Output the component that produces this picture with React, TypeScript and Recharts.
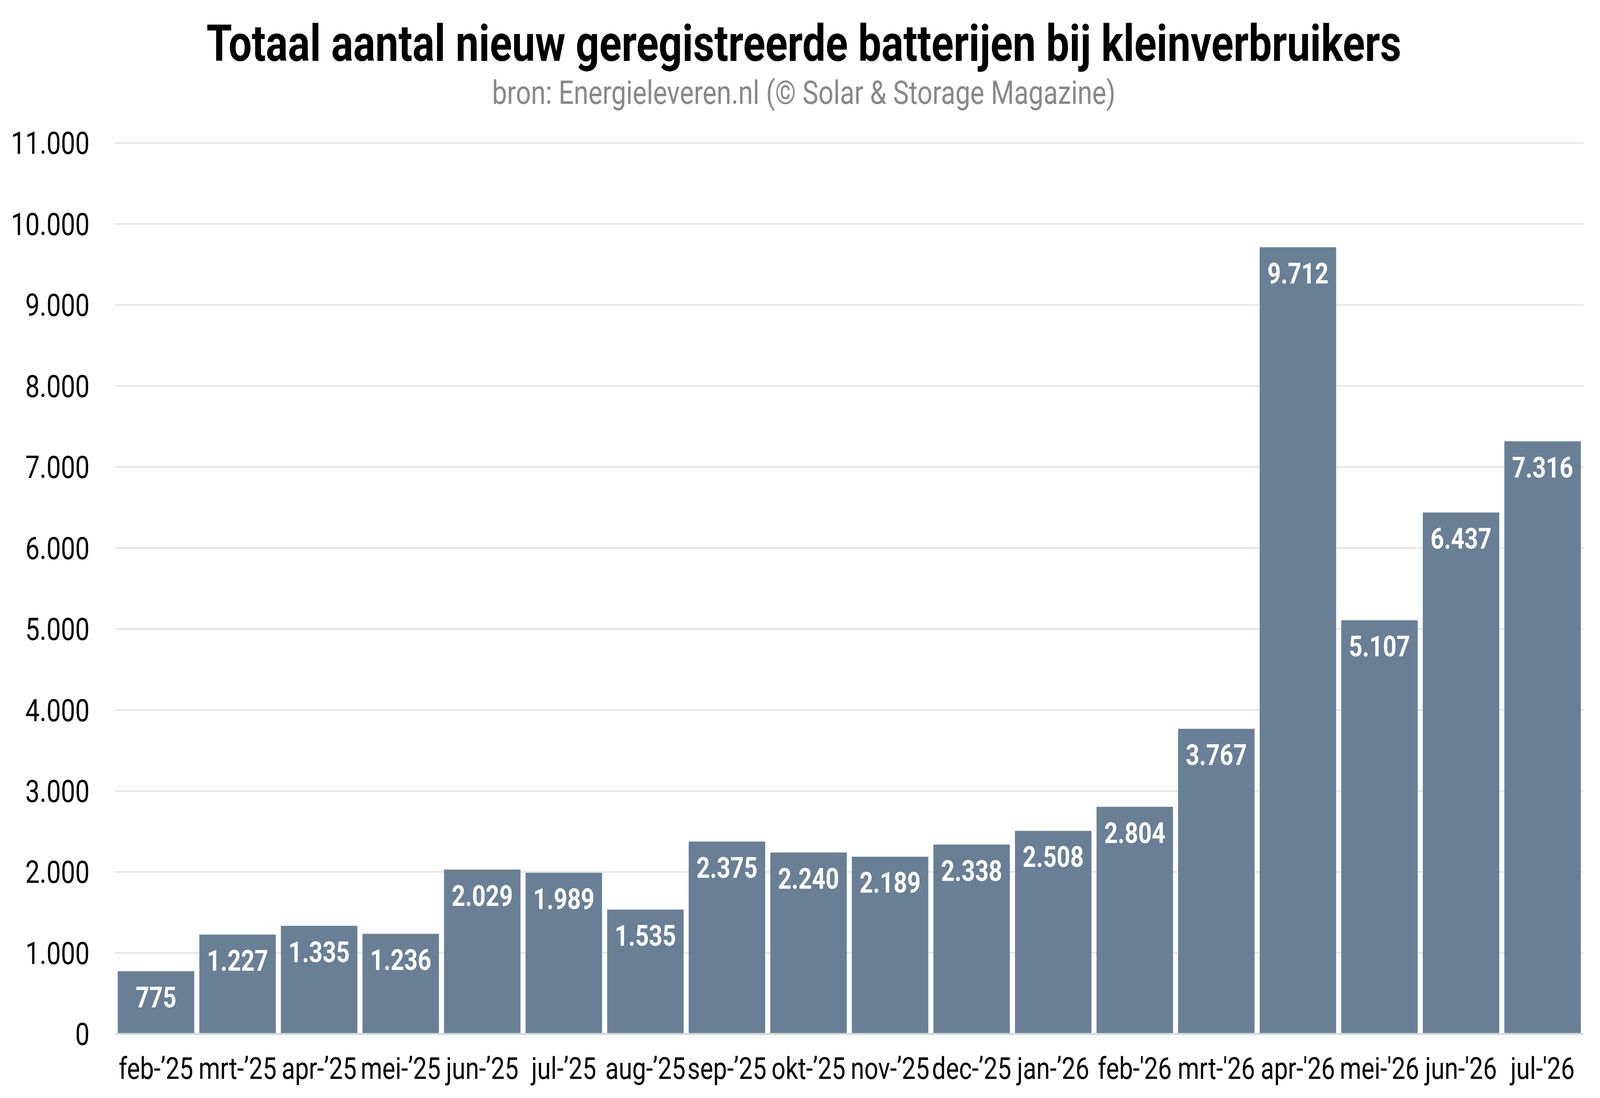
import React from "react";
import { BarChart, Bar, XAxis, YAxis, CartesianGrid, LabelList } from "recharts";

document.body.style.margin = "0";
document.body.style.overflow = "hidden";

const months = [
  "feb-’25", "mrt-’25", "apr-’25", "mei-’25", "jun-’25", "jul-’25", "aug-’25",
  "sep-’25", "okt-’25", "nov-’25", "dec-’25", "jan-’26", "feb-'26", "mrt-'26",
  "apr-'26", "mei-'26", "jun-'26", "jul-'26",
];

const batteries = [
  775, 1227, 1335, 1236, 2029, 1989, 1535, 2375, 2240, 2189, 2338, 2508, 2804,
  3767, 9712, 5107, 6437, 7316,
];

const yTicks = [0, 1000, 2000, 3000, 4000, 5000, 6000, 7000, 8000, 9000, 10000, 11000];

const data = months.map((month, i) => ({ month, value: batteries[i] }));

const fmt = (v: number) => String(v).replace(/\B(?=(\d{3})+(?!\d))/g, ".");

const FONT = "Roboto, 'Noto Sans', sans-serif";
const W = 5000;
const H = 2812;

export default function App() {
  // the window can come out at another size than the photo; stretch the drawing to fill it
  const vw = window.innerWidth || W;
  const vh = window.innerHeight || H;
  const sx = vw / W;
  const sy = vh / H;

  return (
    <div style={{ width: vw, height: vh, overflow: "hidden", position: "relative" }}>
      <div
        style={{
          position: "absolute",
          left: 0,
          top: 0,
          width: W,
          height: H,
          transform: `scale(${sx}, ${sy})`,
          transformOrigin: "0 0",
          fontFamily: FONT,
          background: "#fff",
        }}
      >
        <svg width={W} height={300} style={{ position: "absolute", left: 0, top: 0 }}>
          <text x={2512} y={156} textAnchor="middle" fontFamily={FONT} fontWeight={700} fontSize={129} fill="#000">
            Totaal aantal nieuw geregistreerde batterijen bij kleinverbruikers
          </text>
          <text x={2512} y={266} textAnchor="middle" fontFamily={FONT} fontSize={83} fill="#888888">
            bron: Energieleveren.nl (© Solar &amp; Storage Magazine)
          </text>
        </svg>
        <div style={{ position: "absolute", left: 0, top: 0 }}>
          <BarChart
            width={W}
            height={H}
            data={data}
            margin={{ top: 366, right: 52, bottom: 0, left: 0 }}
            barCategoryGap={8}
          >
            <CartesianGrid vertical={false} stroke="#dddddd" strokeWidth={3} />
            <XAxis
              dataKey="month"
              height={164}
              tickLine={false}
              tickSize={0}
              tickMargin={60}
              axisLine={{ stroke: "#d6d9dc", strokeWidth: 5 }}
              interval={0}
              tick={{ fontSize: 77, fill: "#000", fontFamily: FONT }}
            />
            <YAxis
              width={360}
              domain={[0, 11000]}
              ticks={yTicks}
              tickFormatter={fmt}
              axisLine={false}
              tickLine={false}
              tickSize={0}
              tickMargin={80}
              tick={{ fontSize: 80, fill: "#000", fontFamily: FONT }}
            />
            <Bar dataKey="value" fill="#687f96" isAnimationActive={false}>
              <LabelList
                dataKey="value"
                position="insideTop"
                offset={40}
                formatter={(v: number) => fmt(v)}
                fill="#ffffff"
                fontSize={74}
                fontWeight={700}
                fontFamily={FONT}
              />
            </Bar>
          </BarChart>
        </div>
      </div>
    </div>
  );
}
